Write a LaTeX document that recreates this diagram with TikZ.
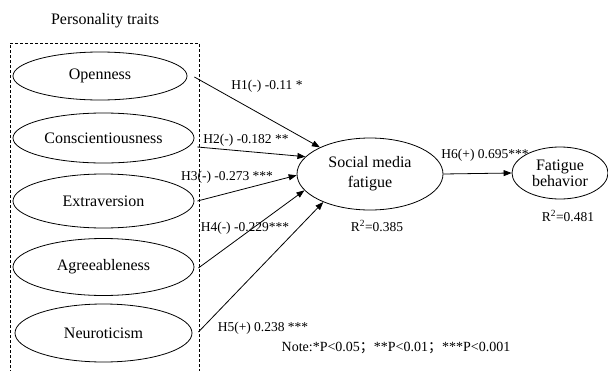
\documentclass[tikz,border=0pt]{standalone}
\usepackage{fontspec}
\setmainfont{Liberation Serif}
\newfontfamily\cjk{Noto Sans CJK SC}
\usetikzlibrary{shapes.geometric,arrows.meta,calc}
\begin{document}
\begin{tikzpicture}[x=1pt,y=-1pt,
  trait/.style={ellipse,draw,line width=0.8pt,inner sep=0pt,font=\fontsize{16}{18}\selectfont},
  lab/.style={inner sep=0pt,font=\fontsize{13.5}{15}\selectfont},
  arr/.style={line width=0.8pt,-{Triangle[length=8pt,width=6pt]}}]
\useasboundingbox (0,0) rectangle (608,370);
\node[inner sep=0pt,font=\fontsize{16}{18}\selectfont] (pt) at (105,21) {Personality traits};
\draw[dash pattern=on 3pt off 2pt,line width=0.7pt] (199,372) -- (199,43) -- (10,43) -- (10,372);
\node[trait,minimum width=174pt,minimum height=48pt] (o) at (100,76) {Openness};
\node[trait,minimum width=181pt,minimum height=50pt] (c) at (103.5,138) {Conscientiousness};
\node[trait,minimum width=181pt,minimum height=54pt] (e) at (103.5,201) {Extraversion};
\node[trait,minimum width=181pt,minimum height=57pt] (a) at (103.5,267) {Agreeableness};
\node[trait,minimum width=177pt,minimum height=58pt] (n) at (103.5,333) {Neuroticism};
\node[trait,minimum width=146pt,minimum height=72pt,align=center,font=\fontsize{16}{20}\selectfont] (smf) at (370,174) {Social media\\fatigue};
\node[trait,minimum width=96pt,minimum height=52pt,align=center,font=\fontsize{16}{13}\selectfont] (fb) at (560,173) {Fatigue\\behavior};
\draw[arr] ($(o.east)+(7,1)$) -- (smf.152.6);
\draw[arr] ($(c.east)+(3,9)$) -- (smf.165.6);
\draw[arr] ($(e.east)+(3,0)$) -- (smf.181);
\draw[arr] ($(a.east)+(4,1)$) -- (smf.194.7);
\draw[arr] ($(n.east)+(6,-1)$) -- (smf.211);
\draw[arr] (smf.east) -- (fb.west);
\node[lab] (l1) at (267,86) {H1(-) -0.11 *};
\node[lab] (l2) at (246,140) {H2(-) -0.182 **};
\node[lab] (l3) at (227,177) {H3(-) -0.273 ***};
\node[lab] (l4) at (245,228) {H4(-) -0.229***};
\node[lab] (l5) at (263,328) {H5(+) 0.238 ***};
\node[lab] (l6) at (485,155) {H6(+) 0.695***};
\node[lab] (r1) at (377,226) {R\textsuperscript{2}=0.385};
\node[lab] (r2) at (568,216) {R\textsuperscript{2}=0.481};
\node[lab,font=\fontsize{14}{16}\selectfont] (note) at (396,348) {Note:*P<0.05{\cjk ；}**P<0.01{\cjk ；}***P<0.001};
\end{tikzpicture}
\end{document}
